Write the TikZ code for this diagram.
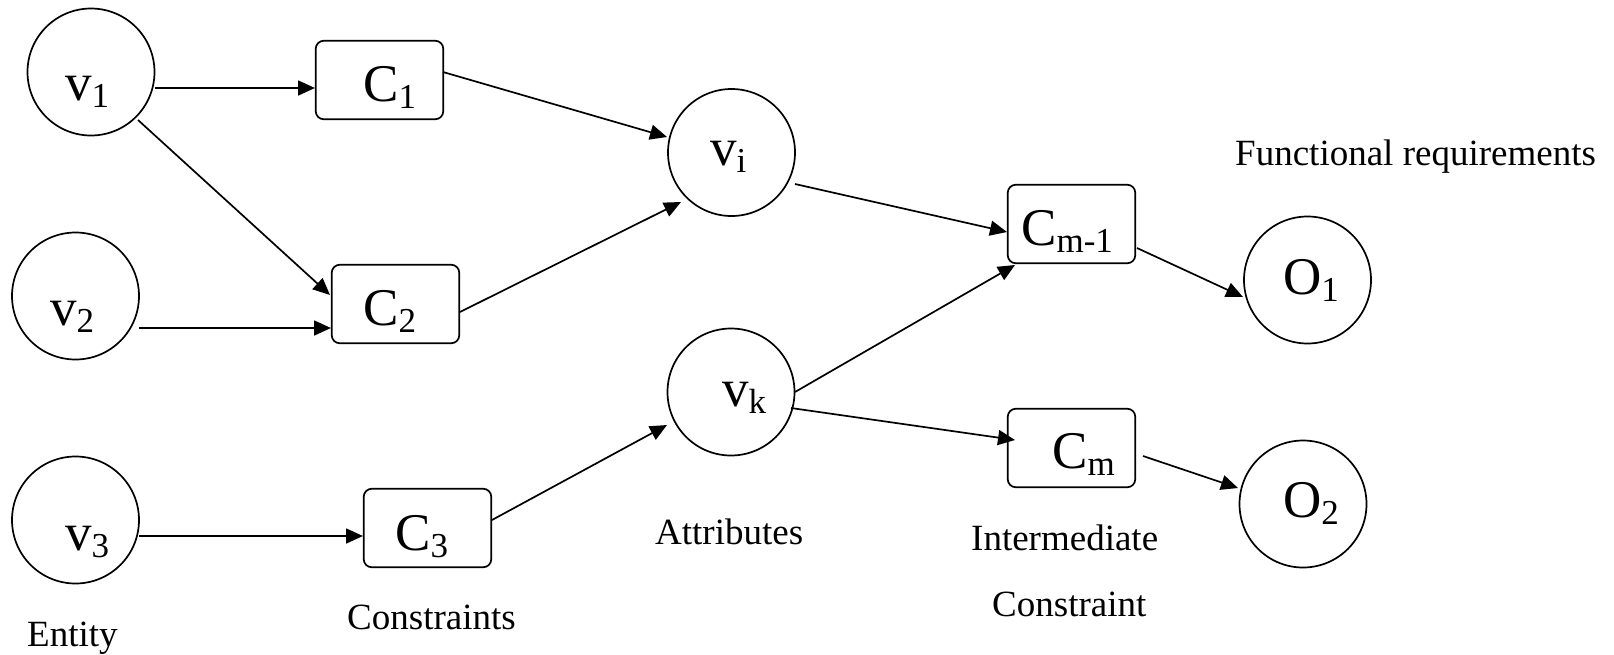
\documentclass[tikz,border=0pt]{standalone}
\usepackage{fontspec}
\setmainfont{Liberation Serif}
\usetikzlibrary{arrows.meta}
\newcommand{\nlab}[2]{{\fontsize{53}{60}\selectfont #1}\raisebox{-7pt}{\fontsize{35}{40}\selectfont #2}}
\tikzset{
  circ/.style={circle, draw, line width=1.7pt, minimum size=127pt, inner sep=0pt},
  cbox/.style={rectangle, rounded corners=8pt, draw, line width=1.7pt, minimum width=127.5pt, minimum height=78.5pt, inner sep=0pt},
  lab/.style={anchor=base west, inner sep=0pt},
  captxt/.style={anchor=base west, inner sep=0pt, font=\fontsize{37}{44}\selectfont},
  arr/.style={line width=1.7pt, -{Triangle[length=17pt 0 0,width=15pt 0 0]}},
}
\begin{document}
\begin{tikzpicture}[x=1pt,y=-1pt]
\useasboundingbox (0,0) rectangle (1614,654);
% circles
\node[circ] (v1) at (91,72) {};
\node[circ] (v2) at (75.5,296) {};
\node[circ] (v3) at (75.5,520) {};
\node[circ] (vi) at (731.5,152.5) {};
\node[circ] (vk) at (731,392) {};
\node[circ] (O1) at (1307.5,280) {};
\node[circ] (O2) at (1303,504) {};
% boxes
\node[cbox] (C1) at (379.5,80) {};
\node[cbox] (C2) at (395.5,304) {};
\node[cbox] (C3) at (427.5,528) {};
\node[cbox] (Cmm) at (1071.5,224) {};
\node[cbox] (Cm) at (1071.5,448) {};
% node labels
\node[lab] (tv1) at (65,100) {\nlab{v}{1}};
\node[lab] (tv2) at (50,325) {\nlab{v}{2}};
\node[lab] (tv3) at (65,550) {\nlab{v}{3}};
\node[lab] (tvi) at (710,165) {\nlab{v}{i}};
\node[lab] (tvk) at (722,406) {\nlab{v}{k}};
\node[lab] (tC1) at (363,101) {\nlab{C}{1}};
\node[lab] (tC2) at (363,325) {\nlab{C}{2}};
\node[lab] (tC3) at (395,550) {\nlab{C}{3}};
\node[lab] (tCmm) at (1021,245) {\nlab{C}{m-1}};
\node[lab] (tCm) at (1052,468) {\nlab{C}{m}};
\node[lab] (tO1) at (1283,294) {\nlab{O}{1}};
\node[lab] (tO2) at (1283,517) {\nlab{O}{2}};
% captions
\node[captxt] (fr) at (1235,165) {Functional requirements};
\node[captxt] (att) at (655,544) {Attributes};
\node[captxt] (int) at (971,550) {Intermediate};
\node[captxt] (con) at (992,616) {Constraint};
\node[captxt] (ent) at (27,646) {Entity};
\node[captxt] (cons) at (347,629) {Constraints};
% arrows
\draw[arr] ([shift={(64,16)}]v1.center) -- ([shift={(-64.5,8)}]C1.center);
\draw[arr] ([shift={(47,48)}]v1.center) -- ([shift={(-65.5,-9)}]C2.center);
\draw[arr] ([shift={(63.5,32)}]v2.center) -- ([shift={(-64.5,24)}]C2.center);
\draw[arr] ([shift={(63.5,16)}]v3.center) -- ([shift={(-64.5,8)}]C3.center);
\draw[arr] ([shift={(63.5,-8)}]C1.center) -- ([shift={(-64.5,-15.5)}]vi.center);
\draw[arr] ([shift={(64.5,8)}]C2.center) -- ([shift={(-50.5,49.5)}]vi.center);
\draw[arr] ([shift={(64.5,-8)}]C3.center) -- ([shift={(-64,33)}]vk.center);
\draw[arr] ([shift={(63.5,31.5)}]vi.center) -- ([shift={(-64.5,8)}]Cmm.center);
\draw[arr] ([shift={(64,0)}]vk.center) -- ([shift={(-56.5,41)}]Cmm.center);
\draw[arr] ([shift={(60,16)}]vk.center) -- ([shift={(-56.5,-8)}]Cm.center);
\draw[arr] ([shift={(65.5,24)}]Cmm.center) -- ([shift={(-64.5,17)}]O1.center);
\draw[arr] ([shift={(71.5,8)}]Cm.center) -- ([shift={(-65,-16)}]O2.center);
\end{tikzpicture}
\end{document}
